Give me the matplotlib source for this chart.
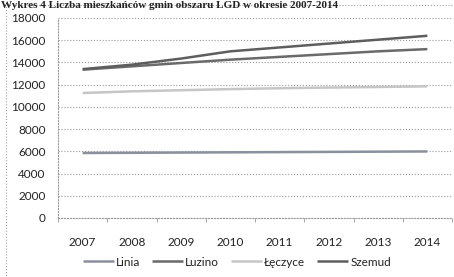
import matplotlib.pyplot as plt
from matplotlib.patches import Rectangle

# dane
lata = [2007, 2008, 2009, 2010, 2011, 2012, 2013, 2014]
linia = [5850, 5870, 5890, 5910, 5930, 5950, 5970, 5990]
luzino = [13350, 13650, 13950, 14250, 14500, 14750, 15000, 15200]
leczyce = [11250, 11400, 11500, 11600, 11680, 11740, 11790, 11850]
szemud = [13400, 13800, 14350, 15000, 15350, 15700, 16050, 16400]

serie = [("Linia", linia, "#8a909c"),
         ("Luzino", luzino, "#6a6a6a"),
         ("Łęczyce", leczyce, "#c6c6c6"),
         ("Szemud", szemud, "#5e5e5e")]

plt.rcParams['font.family'] = ['Lato', 'DejaVu Sans']

fig = plt.figure(figsize=(4.54, 2.77), dpi=100)
ax = fig.add_axes([58/454, 1 - 218/277, 394/454, 200/277])

for nazwa, y, kolor in serie:
    ax.plot(lata, y, color=kolor, lw=1.8, label=nazwa, solid_capstyle='butt')

ax.set_xlim(2006.5, 2014.5)
ax.set_ylim(0, 18000)
ax.set_yticks(range(0, 18001, 2000))
ax.set_xticks(lata)
ax.set_xticks([x + 0.5 for x in range(2006, 2015)], minor=True)
ax.tick_params(axis='x', which='major', length=0, pad=14, labelsize=8.5, colors='#222222')
ax.tick_params(axis='x', which='minor', length=3, color='#999999')
ax.tick_params(axis='y', length=0, pad=9, labelsize=8.5, colors='#222222')

ax.grid(axis='y', color='#9a9a9a', ls=':', lw=0.8)
ax.set_axisbelow(True)
for s in ['top', 'right']:
    ax.spines[s].set_visible(False)
for s in ['left', 'bottom']:
    ax.spines[s].set_color('#9a9a9a')
    ax.spines[s].set_linestyle(':')
    ax.spines[s].set_linewidth(0.8)

ax.legend(loc='center', bbox_to_anchor=(237/454, 1 - 262/277), bbox_transform=fig.transFigure,
          ncol=4, frameon=False, fontsize=8.5, handlelength=2.6, handletextpad=0.2,
          columnspacing=1.0, labelcolor='#222222')

# ramka obszaru wykresu
fig.patches.append(Rectangle((6/454, -0.05), 1.0, 1 - 5/277 + 0.05, transform=fig.transFigure,
                             fill=False, ec='#a0a0a0', ls=':', lw=0.8))

# tytuł u góry skanu
fig.text(1/454, 1 - 8.5/277, "Wykres 4 Liczba mieszkańców gmin obszaru LGD w okresie 2007-2014",
         family=['Liberation Serif', 'DejaVu Serif'], weight='bold', fontsize=8.0,
         va='baseline', ha='left', color='#222222')

fig.savefig("out.png", dpi=100)
